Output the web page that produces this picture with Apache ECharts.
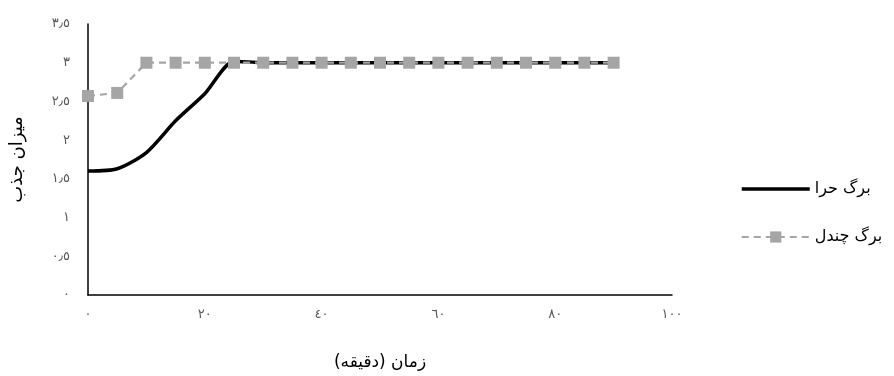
<!DOCTYPE html>
<html><head><meta charset="utf-8">
<script src="https://cdn.jsdelivr.net/npm/echarts@6/dist/echarts.min.js"></script>
<style>html,body{margin:0;padding:0;background:#fff}#c{width:894px;height:376px}</style>
</head><body><div id="c"></div>
<script>
var times = [0,5,10,15,20,25,30,35,40,45,50,55,60,65,70,75,80,85,90];
var hara = [1.6,1.63,1.84,2.25,2.6,3.02,3.0,3.0,3.0,3.0,3.0,3.0,3.0,3.0,3.0,3.0,3.0,3.0,3.0];
var chandal = [2.57,2.61,3.0,3.0,3.0,3.0,3.0,3.0,3.0,3.0,3.0,3.0,3.0,3.0,3.0,3.0,3.0,3.0,3.0];
var xTicks = [0,20,40,60,80,100];
var xTickLabels = ['٠','٢٠','٤٠','٦٠','٨٠','١٠٠'];
var yTicks = [0,0.5,1,1.5,2,2.5,3,3.5];
var yTickLabels = ['٠','٠٫٥','١','١٫٥','٢','٢٫٥','٣','٣٫٥'];
var seriesNames = ['برگ حرا','برگ چندل'];
var xTitle = 'زمان (دقیقه)';
var yTitle = 'میزان جذب';

function pairs(xs, ys){ return xs.map(function(x,i){ return [x, ys[i]]; }); }
function lab(ticks, labels){ return function(v){ for (var i=0;i<ticks.length;i++){ if (Math.abs(ticks[i]-v)<1e-6) return labels[i]; } return ''; }; }

var font = 'DejaVu Sans';
var chart = echarts.init(document.getElementById('c'), null, {renderer:'canvas'});
chart.setOption({
  animation:false,
  backgroundColor:'#fff',
  grid:{left:88, top:24, right:222, bottom:73, containLabel:false},
  xAxis:{type:'value', min:0, max:100, interval:20,
    axisLine:{show:true, lineStyle:{color:'#000', width:1.5}},
    axisTick:{show:false}, splitLine:{show:false},
    axisLabel:{formatter:lab(xTicks,xTickLabels), color:'#595959', fontSize:13, fontFamily:font, margin:13},
    name:xTitle, nameLocation:'middle', nameGap:59,
    nameTextStyle:{color:'#000', fontSize:17, fontFamily:font}
  },
  yAxis:{type:'value', min:0, max:3.5, interval:0.5,
    axisLine:{show:true, lineStyle:{color:'#000', width:1.5}},
    axisTick:{show:false}, splitLine:{show:false},
    axisLabel:{formatter:lab(yTicks,yTickLabels), color:'#595959', fontSize:13, fontFamily:font, margin:18},
    name:yTitle, nameLocation:'middle', nameGap:62, nameRotate:90,
    nameTextStyle:{color:'#000', fontSize:18, fontFamily:font}
  },
  legend:{orient:'vertical', left:735, top:176, itemWidth:68, itemHeight:14, itemGap:32,
    textStyle:{color:'#000', fontSize:16, fontFamily:font},
    data:[{name:seriesNames[0], itemStyle:{opacity:0}, lineStyle:{width:3.5, color:'#000'}},
          {name:seriesNames[1], lineStyle:{width:2.2, color:'#a5a5a5', type:[7,5]}}]
  },
  series:[
    {name:seriesNames[0], type:'line', data:pairs(times,hara), smooth:0.25, symbol:'none',
     lineStyle:{color:'#000', width:3.5}, itemStyle:{color:'#000'}, z:2},
    {name:seriesNames[1], type:'line', data:pairs(times,chandal), symbol:'rect', symbolSize:12,
     lineStyle:{color:'#a5a5a5', width:2.2, type:[7,5]}, itemStyle:{color:'#a5a5a5'}, z:3}
  ]
});
</script></body></html>
